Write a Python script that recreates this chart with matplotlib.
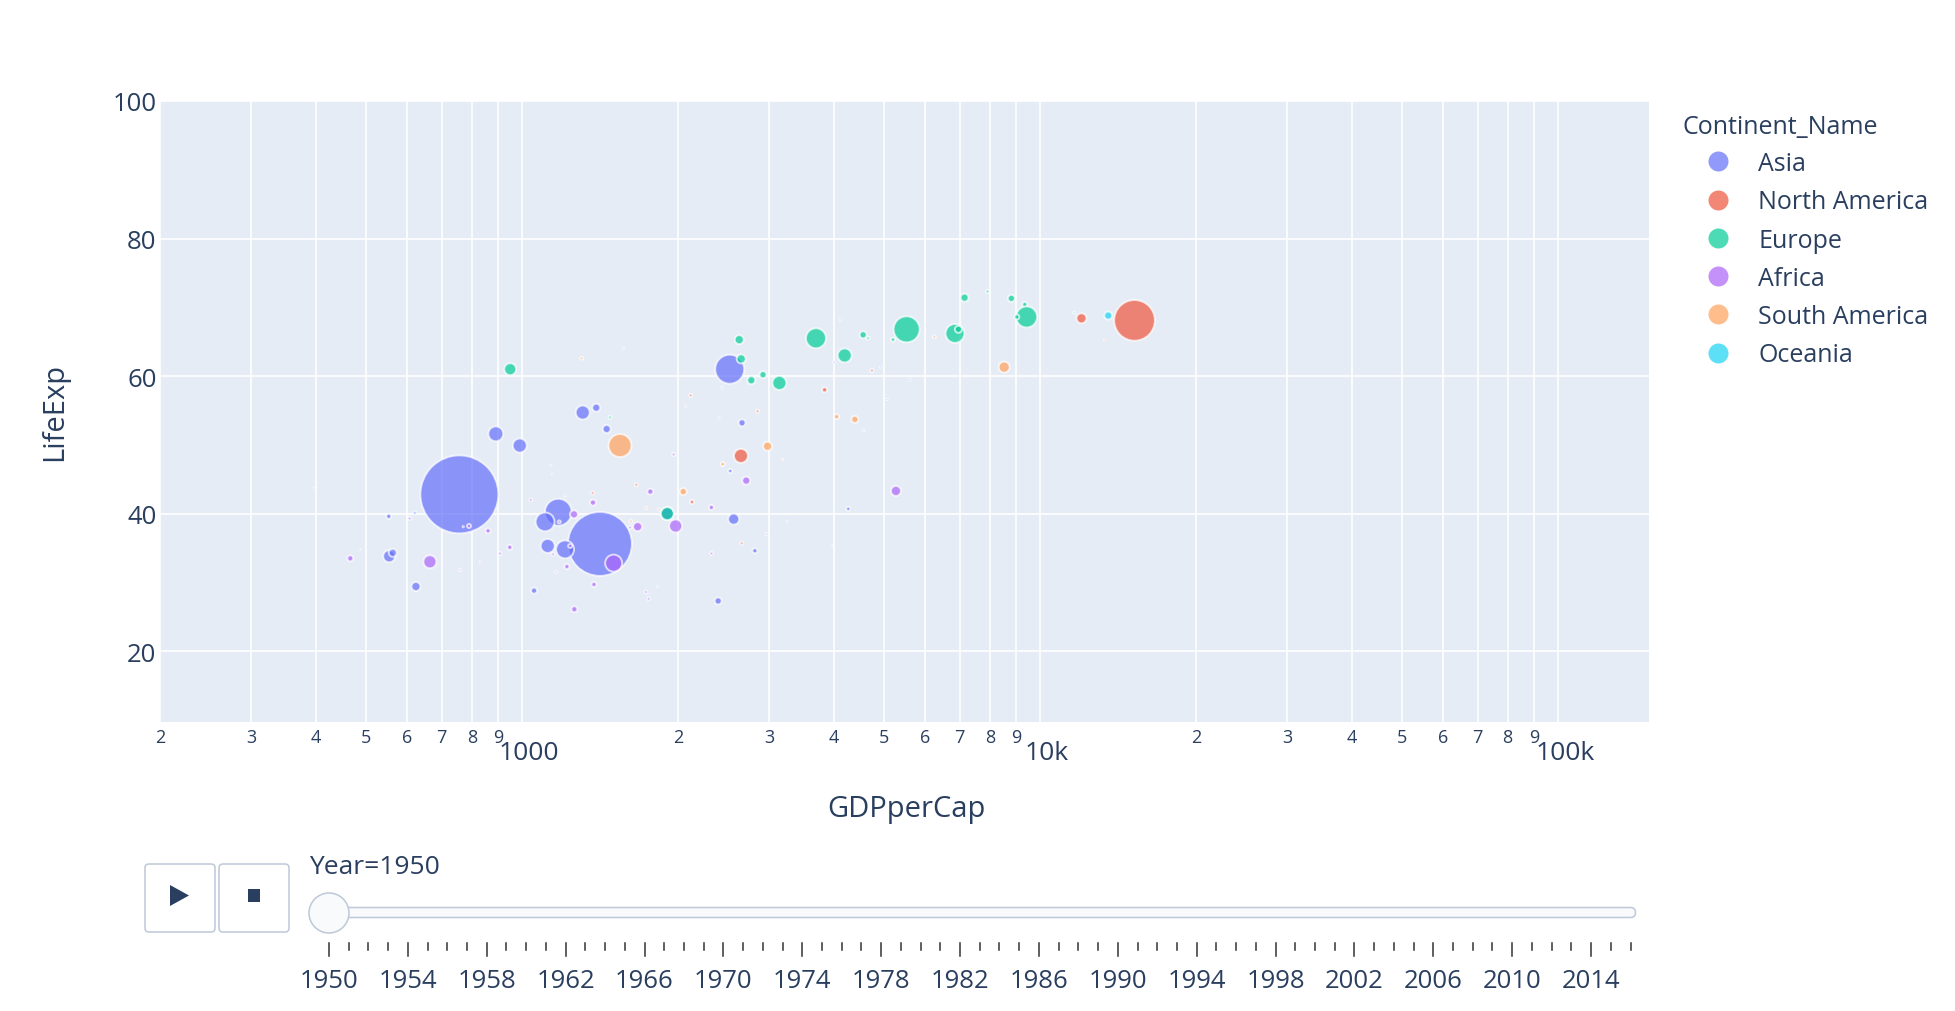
import numpy as np
import matplotlib
matplotlib.use("Agg")
import matplotlib.pyplot as plt
import matplotlib.transforms as mtrans
from matplotlib.lines import Line2D
from matplotlib.patches import FancyBboxPatch, Circle, Polygon, Rectangle

plt.rcParams['font.family'] = ['Open Sans', 'DejaVu Sans']

TXT = '#2a3f5f'

# frame shown: Year=1950
continents = ['Asia', 'North America', 'Europe', 'Africa', 'South America', 'Oceania']
colors = ['#636efa', '#EF553B', '#00cc96', '#ab63fa', '#FFA15A', '#19d3f3']

# GDP per capita, life expectancy, population (millions)
asia_gdp = [757, 1414, 2518, 1175, 1108, 1310, 1391, 1457, 890, 990, 2660, 2436, 553, 621,
            554, 563, 624, 1121, 1211, 1055, 2392, 2524, 2563, 2816, 4115, 4004, 5620, 4265,
            1908, 2402, 397, 1137, 1143, 3964, 5069, 770, 1211, 4922]
asia_life = [42.8, 35.6, 61.0, 40.2, 38.8, 54.7, 55.4, 52.3, 51.6, 49.9, 53.2, 58.3, 39.6, 40.1,
             33.8, 34.3, 29.4, 35.3, 34.8, 28.8, 27.3, 46.2, 39.2, 34.6, 68.2, 62.0, 59.5, 40.7,
             40.0, 53.9, 43.7, 47.0, 45.7, 35.3, 56.6, 38.1, 42.6, 61.3]
asia_pop = [546, 368, 75.5, 65, 32, 17.6, 5.7, 5.7, 20, 17.6, 4.4, 0.36, 2.2, 0.8,
            12.9, 5.7, 7.3, 17.6, 29, 3.2, 4.4, 1.4, 10.9, 2.2, 0.36, 0.36, 0.36, 1.4,
            15.2, 0.15, 0.15, 0.15, 0.15, 0.15, 0.15, 0.15, 0.15, 0.15]

namerica_gdp = [15230, 12030, 2647, 3839, 2850, 4739, 2117, 2130, 1662, 1738, 1838, 1369, 2658,
                2070, 13330]
namerica_life = [68.1, 68.4, 48.4, 58.0, 54.9, 60.8, 57.2, 41.7, 44.2, 40.8, 40.6, 43.0, 35.7,
                 55.6, 65.3]
namerica_pop = [149, 9, 17.6, 2.2, 0.8, 0.8, 0.8, 1.4, 0.8, 0.36, 0.36, 0.8, 0.8,
                0.15, 0.15]

europe_gdp = [949, 2627, 2650, 1479, 2772, 2920, 3140, 3695, 4198, 4557, 4659, 5205, 5529,
              6855, 6960, 7154, 7923, 8810, 9350, 9426, 9027, 1908]
europe_life = [61.0, 65.3, 62.5, 54.0, 59.4, 60.2, 59.0, 65.5, 63.0, 66.0, 65.5, 65.3, 66.8,
               66.2, 66.8, 71.4, 72.3, 71.3, 70.4, 68.6, 68.6, 40.0]
europe_pop = [12.9, 7.3, 7.3, 0.8, 5.7, 4.4, 17.6, 36, 17.6, 4.4, 0.8, 1.4, 61,
              32, 4.4, 5.7, 0.8, 4.4, 2.2, 40, 2.2, 15.2]

africa_gdp = [1503, 5273, 664, 466, 607, 860, 907, 947, 1040, 1260, 1148, 1221, 1163, 1262,
              1371, 1377, 1672, 1769, 1980, 1963, 2321, 2324, 2710, 1736, 1757, 760, 1239,
              790, 1616, 2970, 1180, 486, 831, 1828, 3250]
africa_life = [32.8, 43.3, 33.0, 33.5, 39.3, 37.5, 34.2, 35.1, 42.0, 39.9, 34.1, 32.3, 31.5, 26.1,
               41.6, 29.7, 38.1, 43.2, 38.2, 48.6, 40.9, 34.2, 44.8, 28.6, 27.6, 31.8, 35.3,
               38.2, 38.0, 37.0, 38.8, 34.8, 33.0, 29.4, 38.9]
africa_pop = [26, 9, 15.2, 3.2, 0.8, 2.2, 0.8, 2.2, 0.8, 5.7, 0.8, 2.2, 0.36, 3.2,
              3.2, 2.2, 7.3, 3.2, 15.2, 0.8, 2.2, 0.8, 5.7, 0.8, 0.8, 0.36, 1.4,
              1.4, 0.8, 0.36, 0.8, 0.15, 0.15, 0.15, 0.15]

samerica_gdp = [1546, 8531, 2980, 2048, 2441, 4051, 4393, 6254, 1304, 1623, 3188, 4570]
samerica_life = [49.9, 61.3, 49.8, 43.2, 47.2, 54.1, 53.7, 65.7, 62.6, 38.9, 47.9, 52.1]
samerica_pop = [47.5, 10.9, 7.3, 4.4, 1.4, 2.2, 4.4, 0.8, 0.8, 0.8, 0.15, 0.15]

oceania_gdp = [13550, 11650, 1569]
oceania_life = [68.8, 69.2, 64.0]
oceania_pop = [5.7, 0.36, 0.15]

gdp_all = [asia_gdp, namerica_gdp, europe_gdp, africa_gdp, samerica_gdp, oceania_gdp]
life_all = [asia_life, namerica_life, europe_life, africa_life, samerica_life, oceania_life]
pop_all = [asia_pop, namerica_pop, europe_pop, africa_pop, samerica_pop, oceania_pop]

x_minor = [200, 300, 400, 500, 600, 700, 800, 900,
           2000, 3000, 4000, 5000, 6000, 7000, 8000, 9000,
           20000, 30000, 40000, 50000, 60000, 70000, 80000, 90000]
x_minor_labels = ['2', '3', '4', '5', '6', '7', '8', '9'] * 3
x_major = [1000, 10000, 100000]
x_major_labels = ['1000', '10k', '100k']
y_ticks = [20, 40, 60, 80, 100]

slider_years = list(range(1950, 2017))

W, H = 1956, 1012
fig = plt.figure(figsize=(W / 100, H / 100), dpi=100)
ax = fig.add_axes([160 / W, 1 - 723 / H, (1649 - 160) / W, (723 - 102) / H])
ax.set_facecolor('#E5ECF6')
for s in ax.spines.values():
    s.set_visible(False)

# bubble size ~ sqrt(pop), biggest bubble about 78 px across
max_pop = max(max(p) for p in pop_all)
max_d = 78 * 0.72
for name, col, g, l, p in zip(continents, colors, gdp_all, life_all, pop_all):
    sizes = (max_d * np.sqrt(np.array(p) / max_pop)) ** 2
    ax.scatter(g, l, s=sizes, color=col, alpha=0.7, edgecolors='white',
               linewidths=1.4, zorder=3)

ax.set_xscale('log')
ax.set_xlim(200, 150000)
ax.set_ylim(9.7, 100)
ax.set_xticks(x_major)
ax.set_xticklabels(x_major_labels)
ax.set_xticks(x_minor, minor=True)
ax.set_xticklabels(x_minor_labels, minor=True)
ax.set_yticks(y_ticks)
ax.set_yticklabels([str(v) for v in y_ticks])
ax.tick_params(axis='x', which='major', length=0, pad=13, labelsize=19, labelcolor=TXT)
ax.tick_params(axis='x', which='minor', length=0, pad=4.5, labelsize=13, labelcolor=TXT)
ax.tick_params(axis='y', length=0, pad=2.5, labelsize=18.5, labelcolor=TXT)
ax.grid(True, which='both', color='white', linewidth=1.2, zorder=0)
ax.set_axisbelow(True)

# power labels sit a little right of their gridline, as in the original
off = mtrans.ScaledTranslation(7 / 100, 0, fig.dpi_scale_trans)
for lbl in ax.xaxis.get_majorticklabels():
    lbl.set_transform(lbl.get_transform() + off)

fig.text(906 / W, 1 - 809 / H, 'GDPperCap', ha='center', va='center', fontsize=21, color=TXT)
fig.text(55 / W, 1 - 412 / H, 'LifeExp', ha='center', va='center', rotation=90,
         fontsize=21, color=TXT)

# legend
fig.text(1683 / W, 1 - 127 / H, 'Continent_Name', ha='left', va='center', fontsize=18, color=TXT)
handles = [Line2D([], [], linestyle='none', marker='o', markersize=14.4, color=c, alpha=0.7,
                  markeredgewidth=0) for c in colors]
leg = fig.legend(handles, continents, loc='upper left', bbox_to_anchor=(1706 / W, 1 - 152 / H),
                 frameon=False, fontsize=18, labelcolor=TXT, handlelength=1.0,
                 handletextpad=1.1, labelspacing=0.53, borderpad=0, borderaxespad=0)

# animation controls drawn in pixel space
ui = fig.add_axes([0, 0, 1, 1])
ui.set_xlim(0, W)
ui.set_ylim(H, 0)
ui.set_axis_off()
edge = '#bec8d9'
for bx in (145, 219):
    ui.add_patch(FancyBboxPatch((bx, 865), 70, 68, boxstyle='round,pad=0,rounding_size=4',
                                fc='white', ec=edge, lw=1.1))
ui.add_patch(Polygon([(170, 886), (170, 907), (189, 896.5)], closed=True, fc=TXT, ec='none'))
ui.add_patch(Rectangle((248, 890), 12, 13, fc=TXT, ec='none'))

x0, x1 = 329, 1630.5
ui.add_patch(FancyBboxPatch((x0 - 2, 908.5), x1 - x0 + 7, 10,
                            boxstyle='round,pad=0,rounding_size=5', fc='#f8fafc', ec=edge, lw=1.1))
ui.add_patch(Circle((x0, 914), 20, fc='#f8fafc', ec=edge, lw=1.1, zorder=5))
ui.text(309, 868, 'Year=%d' % slider_years[0], ha='left', va='center', fontsize=19, color=TXT)

step = (x1 - x0) / (len(slider_years) - 1)
for i, yr in enumerate(slider_years):
    tx = x0 + i * step
    if i % 4 == 0:
        ui.plot([tx, tx], [944, 957], color='#333333', lw=1.1)
        ui.text(tx, 982, str(yr), ha='center', va='center', fontsize=18.5, color=TXT)
    else:
        ui.plot([tx, tx], [944, 951], color='#333333', lw=1.1)

fig.savefig('out.png', dpi=100, facecolor='white')
